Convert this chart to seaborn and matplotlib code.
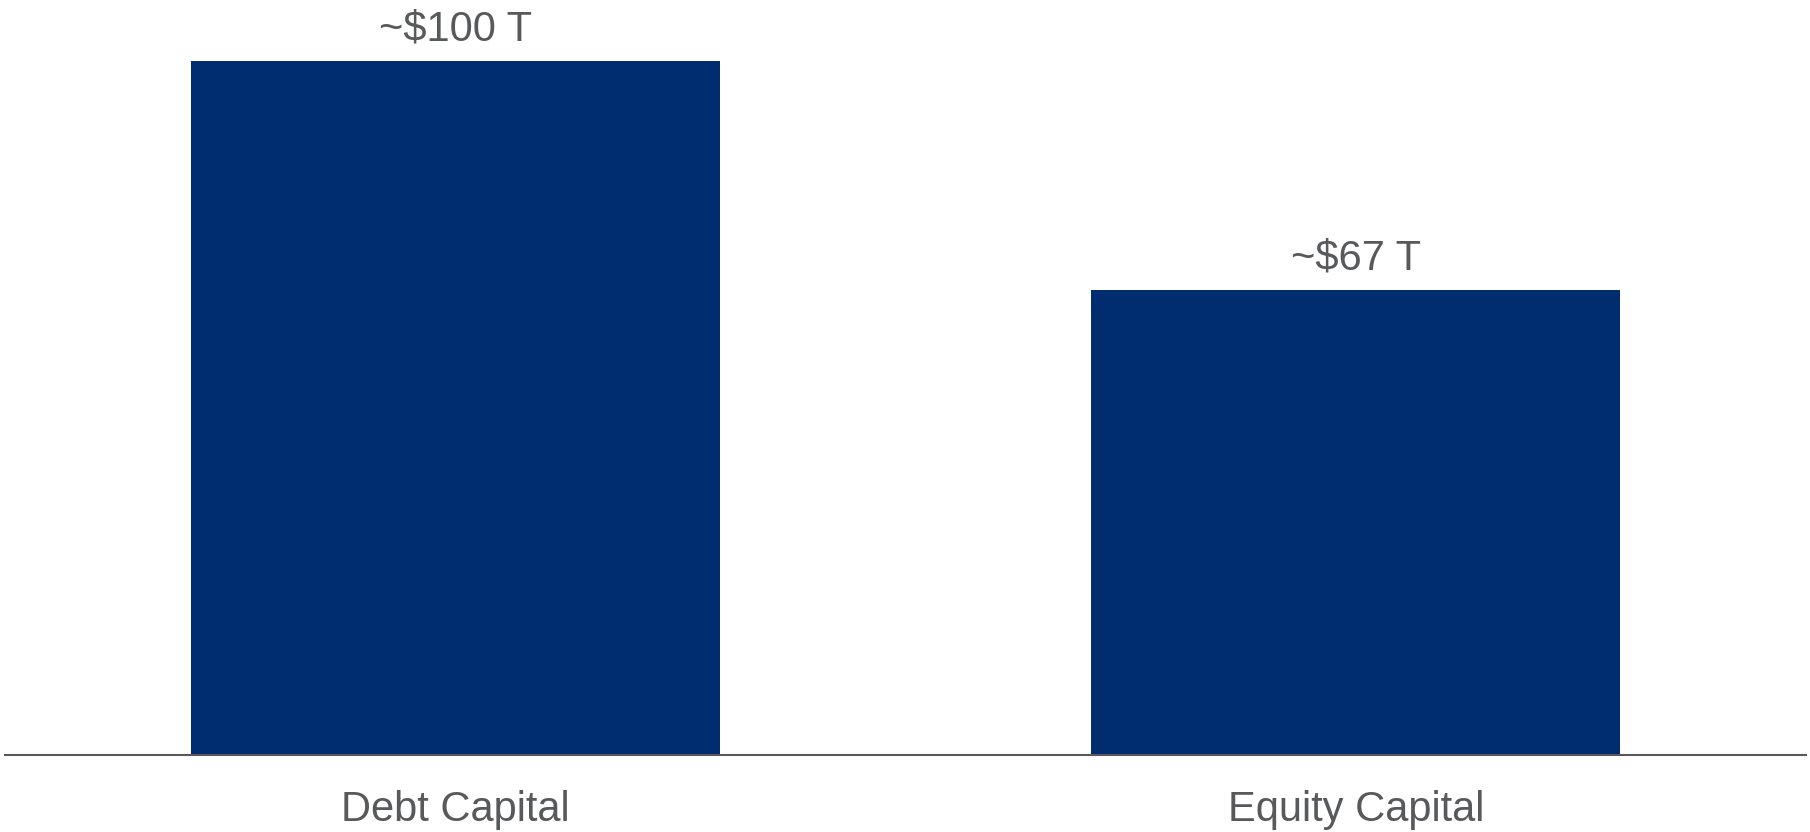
import matplotlib
matplotlib.use("Agg")
import matplotlib.pyplot as plt
import seaborn as sns
import pandas as pd

categories = ["Debt Capital", "Equity Capital"]
values = [100, 67]
labels = ["~$100 T", "~$67 T"]

sns.set_theme(style="white")
plt.rcParams['font.family'] = ['Liberation Sans', 'DejaVu Sans']

df = pd.DataFrame({"category": categories, "value": values})

fig = plt.figure(figsize=(18.10, 8.32), dpi=100)
ax = fig.add_axes([5/1810, 77/832, 1801/1810, 755/832])

sns.barplot(data=df, x="category", y="value", color="#002D6F", width=0.5875,
            saturation=1, ax=ax)
for p in ax.patches:
    p.set_edgecolor("none")

ax.set_xlim(-0.5, 1.5)
ax.set_ylim(0, 100 * 755 / 694)

for container in ax.containers:
    ax.bar_label(container, labels=labels, padding=8.5, fontsize=30, color="#58595B")

for s in ["top", "right", "left"]:
    ax.spines[s].set_visible(False)
ax.spines["bottom"].set_color("#595959")
ax.spines["bottom"].set_linewidth(1.5)
ax.set_yticks([])
ax.set_xlabel("")
ax.set_ylabel("")
ax.tick_params(axis="x", length=0, pad=25, labelsize=30, labelcolor="#58595B")
ax.patch.set_alpha(0)

fig.savefig("out.png", dpi=100, facecolor="white")
